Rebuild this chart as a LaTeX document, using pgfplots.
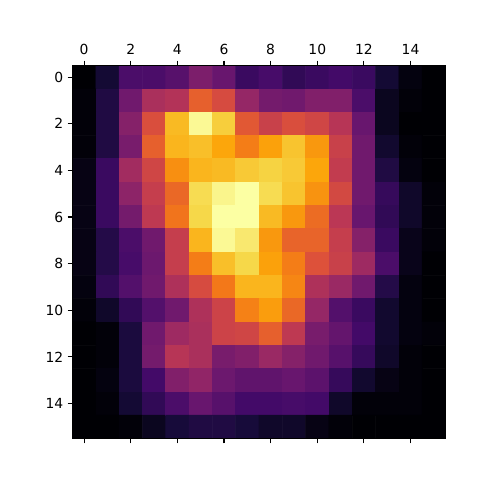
\documentclass[border=0pt]{standalone}
\usepackage{pgfplots}
\pgfplotsset{compat=1.18}
\usepackage{pgfplotstable}
\usepackage{fontspec}
\setmainfont{DejaVu Sans}
\pgfplotstableread{
x y v
0 0 0.00
1 0 0.09
2 0 0.22
3 0 0.22
4 0 0.25
5 0 0.34
6 0 0.29
7 0 0.18
8 0 0.21
9 0 0.16
10 0 0.18
11 0 0.20
12 0 0.18
13 0 0.09
14 0 0.02
15 0 0.00
0 1 0.01
1 1 0.12
2 1 0.31
3 1 0.45
4 1 0.47
5 1 0.63
6 1 0.57
7 1 0.40
8 1 0.32
9 1 0.31
10 1 0.35
11 1 0.35
12 1 0.22
13 1 0.05
14 1 0.01
15 1 0.00
0 2 0.01
1 2 0.12
2 2 0.36
3 2 0.58
4 2 0.83
5 2 0.97
6 2 0.87
7 2 0.61
8 2 0.53
9 2 0.58
10 2 0.55
11 2 0.48
12 2 0.29
13 2 0.05
14 2 0.00
15 2 0.00
0 3 0.01
1 3 0.12
2 3 0.33
3 3 0.63
4 3 0.82
5 3 0.84
6 3 0.79
7 3 0.70
8 3 0.78
9 3 0.85
10 3 0.76
11 3 0.53
12 3 0.31
13 3 0.08
14 3 0.01
15 3 0.00
0 4 0.03
1 4 0.18
2 4 0.43
3 4 0.55
4 4 0.74
5 4 0.82
6 4 0.83
7 4 0.86
8 4 0.88
9 4 0.86
10 4 0.79
11 4 0.51
12 4 0.31
13 4 0.12
14 4 0.02
15 4 0.00
0 5 0.03
1 5 0.18
2 5 0.38
3 5 0.52
4 5 0.65
5 5 0.90
6 5 0.96
7 5 1.00
8 5 0.90
9 5 0.85
10 5 0.75
11 5 0.56
12 5 0.31
13 5 0.17
14 5 0.07
15 5 0.01
0 6 0.03
1 6 0.18
2 6 0.32
3 6 0.50
4 6 0.68
5 6 0.89
6 6 1.00
7 6 1.00
8 6 0.83
9 6 0.76
10 6 0.66
11 6 0.49
12 6 0.29
13 6 0.16
14 6 0.07
15 6 0.01
0 7 0.03
1 7 0.13
2 7 0.22
3 7 0.31
4 7 0.52
5 7 0.82
6 7 0.97
7 7 0.93
8 7 0.76
9 7 0.64
10 7 0.64
11 7 0.52
12 7 0.36
13 7 0.18
14 7 0.04
15 7 0.01
0 8 0.03
1 8 0.13
2 8 0.21
3 8 0.30
4 8 0.52
5 8 0.70
6 8 0.84
7 8 0.89
8 8 0.78
9 8 0.70
10 8 0.59
11 8 0.53
12 8 0.42
13 8 0.22
14 8 0.04
15 8 0.00
0 9 0.02
1 9 0.16
2 9 0.24
3 9 0.31
4 9 0.46
5 9 0.57
6 9 0.69
7 9 0.82
8 9 0.82
9 9 0.72
10 9 0.46
11 9 0.41
12 9 0.31
13 9 0.13
14 9 0.02
15 9 0.00
0 10 0.01
1 10 0.07
2 10 0.16
3 10 0.24
4 10 0.31
5 10 0.46
6 10 0.54
7 10 0.71
8 10 0.77
9 10 0.65
10 10 0.40
11 10 0.24
12 10 0.18
13 10 0.08
14 10 0.02
15 10 0.00
0 11 0.00
1 11 0.01
2 11 0.11
3 11 0.31
4 11 0.42
5 11 0.45
6 11 0.54
7 11 0.55
8 11 0.63
9 11 0.50
10 11 0.33
11 11 0.28
12 11 0.20
13 11 0.08
14 11 0.02
15 11 0.01
0 12 0.00
1 12 0.01
2 12 0.11
3 12 0.32
4 12 0.48
5 12 0.45
6 12 0.33
7 12 0.35
8 12 0.41
9 12 0.36
10 12 0.31
11 12 0.25
12 12 0.17
13 12 0.07
14 12 0.01
15 12 0.00
0 13 0.00
1 13 0.02
2 13 0.11
3 13 0.20
4 13 0.35
5 13 0.39
6 13 0.30
7 13 0.27
8 13 0.27
9 13 0.29
10 13 0.26
11 13 0.17
12 13 0.08
13 13 0.03
14 13 0.01
15 13 0.00
0 14 0.00
1 14 0.01
2 14 0.09
3 14 0.16
4 14 0.22
5 14 0.29
6 14 0.25
7 14 0.20
8 14 0.20
9 14 0.21
10 14 0.20
11 14 0.07
12 14 0.01
13 14 0.01
14 14 0.01
15 14 0.00
0 15 0.00
1 15 0.00
2 15 0.01
3 15 0.05
4 15 0.10
5 15 0.12
6 15 0.12
7 15 0.10
8 15 0.07
9 15 0.07
10 15 0.03
11 15 0.01
12 15 0.00
13 15 0.00
14 15 0.00
15 15 0.00
}\grid
\begin{document}
\begin{tikzpicture}[x=0.72bp,y=0.72bp]
\path[use as bounding box] (-72.5,-41.5) rectangle (407.5,438.5);
\begin{axis}[
  at={(0,0)}, anchor=south west,
  scale only axis, width=268.56bp, height=268.56bp,
  xmin=-0.5, xmax=15.5, ymin=-0.5, ymax=15.5,
  y dir=reverse,
  xtick={0,2,...,14}, ytick={0,2,...,14},
  xticklabel pos=top, xtick pos=both, ytick pos=left,
  tick align=outside,
  major tick length=3.5bp,
  tick style={black, line width=0.8bp},
  axis line style={black, line width=0.8bp},
  axis on top,
  every tick label/.append style={font=\fontsize{10bp}{12bp}\selectfont},
  xticklabel style={yshift=1bp},
  yticklabel style={xshift=0.4bp},
  /pgf/number format/assume math mode=true,
  colormap={inferno}{
    rgb255=(0,0,4) rgb255=(22,11,57) rgb255=(66,10,104) rgb255=(106,23,110)
    rgb255=(147,38,103) rgb255=(188,55,84) rgb255=(221,81,58) rgb255=(243,120,25)
    rgb255=(252,165,10) rgb255=(246,215,70) rgb255=(252,255,164)},
  point meta min=0, point meta max=0.985,
]
\addplot[matrix plot*, mesh/cols=16, mesh/rows=16, point meta=explicit]
  table[x=x, y=y, meta=v] {\grid};
\end{axis}
\end{tikzpicture}
\end{document}
